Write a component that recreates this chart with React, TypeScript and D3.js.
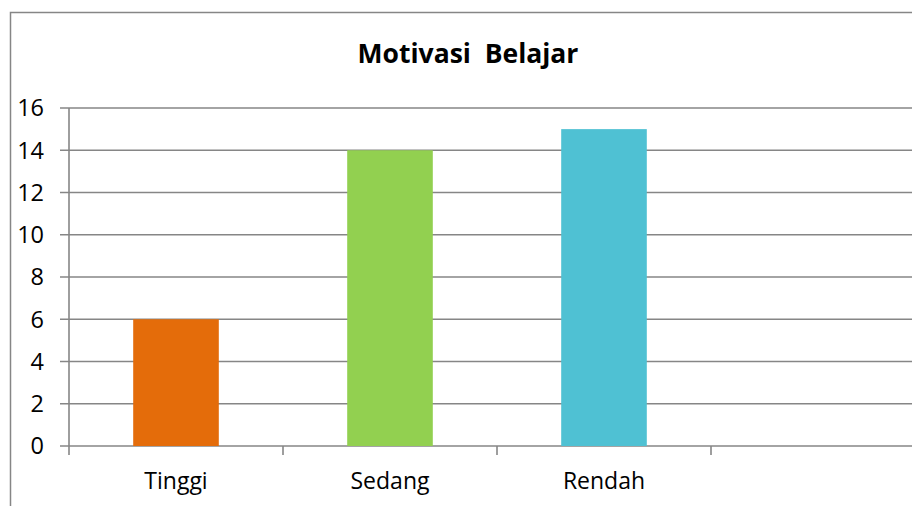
import React, { useEffect, useRef } from 'react';
import * as d3 from 'd3';

const categories = ['Tinggi', 'Sedang', 'Rendah', ''];
const values = [6, 14, 15];
const barColors = ['#E46C0A', '#92D050', '#4FC1D3'];
const yTicks = [0, 2, 4, 6, 8, 10, 12, 14, 16];
const title = 'Motivasi  Belajar';

const W = 912;
const H = 506;

export default function App() {
  const ref = useRef<SVGSVGElement>(null);

  useEffect(() => {
    if (!ref.current) return;
    const svg = d3.select(ref.current);
    svg.selectAll('*').remove();

    const font = '"Open Sans", sans-serif';
    const grey = '#868686';

    // chart area frame (only left and top edges visible)
    svg.append('path')
      .attr('d', `M10.5,${H} L10.5,12.5 L${W},12.5`)
      .attr('fill', 'none')
      .attr('stroke', grey)
      .attr('stroke-width', 1.5);

    const x = d3.scaleBand<string>().domain(categories).range([69, 925]).padding(0);
    const y = d3.scaleLinear().domain([0, 16]).range([446, 108]);

    // gridlines + y ticks
    svg.append('g')
      .selectAll('line')
      .data(yTicks)
      .join('line')
      .attr('x1', 60)
      .attr('x2', W)
      .attr('y1', d => y(d))
      .attr('y2', d => y(d))
      .attr('stroke', grey)
      .attr('stroke-width', 1.6);

    svg.append('g')
      .selectAll('text')
      .data(yTicks)
      .join('text')
      .attr('x', 44)
      .attr('y', d => y(d))
      .attr('dy', '0.36em')
      .attr('text-anchor', 'end')
      .attr('font-family', font)
      .attr('font-size', 23.5)
      .attr('fill', '#000')
      .text(d => d);

    // y axis line
    svg.append('line')
      .attr('x1', 69).attr('x2', 69)
      .attr('y1', y(16)).attr('y2', 455)
      .attr('stroke', grey)
      .attr('stroke-width', 1.6);

    // x tick marks at band boundaries
    const bounds = categories.map(c => x(c) as number).concat([925]);
    svg.append('g')
      .selectAll('line')
      .data(bounds.slice(1))
      .join('line')
      .attr('x1', d => d).attr('x2', d => d)
      .attr('y1', y(0)).attr('y2', 455)
      .attr('stroke', grey)
      .attr('stroke-width', 1.6);

    // bars
    const bw = x.bandwidth() * 0.4;
    svg.append('g')
      .selectAll('rect')
      .data(values)
      .join('rect')
      .attr('x', (d, i) => (x(categories[i]) as number) + (x.bandwidth() - bw) / 2)
      .attr('width', bw)
      .attr('y', d => y(d))
      .attr('height', d => y(0) - y(d))
      .attr('fill', (d, i) => barColors[i]);

    // category labels
    svg.append('g')
      .selectAll('text')
      .data(categories.filter(c => c))
      .join('text')
      .attr('x', d => (x(d) as number) + x.bandwidth() / 2)
      .attr('y', 489)
      .attr('text-anchor', 'middle')
      .attr('font-family', font)
      .attr('font-size', 23)
      .attr('fill', '#000')
      .text(d => d);

    // title
    svg.append('text')
      .attr('x', 468)
      .attr('y', 63)
      .attr('text-anchor', 'middle')
      .attr('font-family', font)
      .attr('font-weight', 'bold')
      .attr('font-size', 26.5)
      .attr('fill', '#000')
      .style('white-space', 'pre')
      .text(title);
  }, []);

  return (
    <div>
      <style>{'body{margin:0}'}</style>
      <svg ref={ref} width={W} height={H} style={{ display: 'block', background: '#fff' }} />
    </div>
  );
}
